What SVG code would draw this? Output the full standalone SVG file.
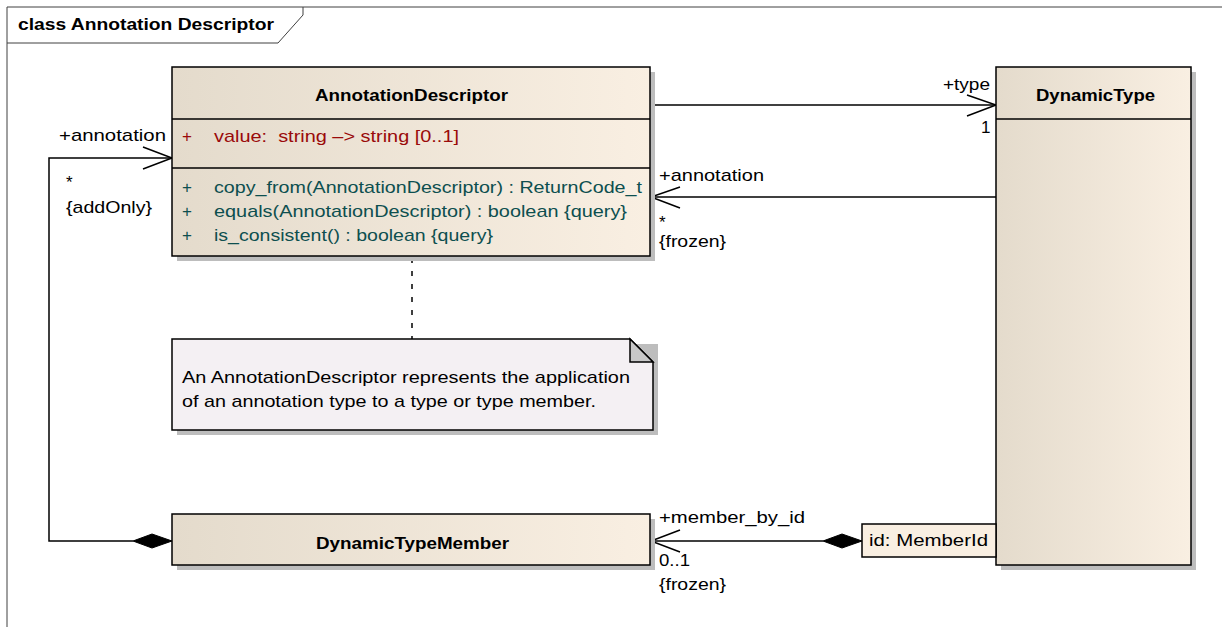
<svg xmlns="http://www.w3.org/2000/svg" width="1222" height="627" viewBox="0 0 1222 627">
<style>
text{font-family:"Liberation Sans",Arial,sans-serif;font-size:17px;fill:#000}
.b{font-weight:bold;font-size:16px}
.attr{fill:#9a0a0a}
.op{fill:#0d4f4f}
.box{fill:url(#g);stroke:#000;stroke-width:1.5}
.sh{fill:#bdbdbd}
.ln{fill:none;stroke:#000;stroke-width:1.5}
</style>
<defs>
<linearGradient id="g" x1="0" y1="0" x2="1" y2="0">
<stop offset="0" stop-color="#e4dbcc"/>
<stop offset="1" stop-color="#f9efe2"/>
</linearGradient>
</defs>
<rect width="1222" height="627" fill="#fff"/>
<g id="frame">
<path d="M7 627 V7 H1222" fill="none" stroke="#404040" stroke-width="1"/>
<path d="M7 43 H278 L303 15 V7" fill="none" stroke="#404040" stroke-width="1"/>
<text class="b" x="18" y="30" textLength="256" lengthAdjust="spacingAndGlyphs">class Annotation Descriptor</text>
</g>
<g id="connectors">
<path class="ln" d="M651 105 H996"/>
<path class="ln" d="M967 95 L996 105 L967 116"/>
<path class="ln" d="M996 197 H651"/>
<path class="ln" d="M680 187 L651 197 L680 208"/>
<path class="ln" d="M133 541 H49 V158 H172"/>
<path class="ln" d="M143 147 L172 158 L143 169"/>
<path d="M133 541 L152 534 L172 541 L152 548 Z" fill="#000" stroke="#000"/>
<path class="ln" d="M823 541 H651"/>
<path class="ln" d="M680 530 L651 541 L680 552"/>
<path d="M823 541 L842 534 L862 541 L842 548 Z" fill="#000" stroke="#000"/>
<path d="M412 258 V340" fill="none" stroke="#000" stroke-width="1.5" stroke-dasharray="5 8"/>
<text x="943" y="90" textLength="47" lengthAdjust="spacingAndGlyphs">+type</text>
<text x="981" y="133">1</text>
<text x="659" y="181" textLength="105" lengthAdjust="spacingAndGlyphs">+annotation</text>
<text x="659" y="228">*</text>
<text x="659" y="247" textLength="67" lengthAdjust="spacingAndGlyphs">{frozen}</text>
<text x="59" y="141" textLength="107" lengthAdjust="spacingAndGlyphs">+annotation</text>
<text x="66" y="188">*</text>
<text x="66" y="213" textLength="86" lengthAdjust="spacingAndGlyphs">{addOnly}</text>
<text x="659" y="523" textLength="146" lengthAdjust="spacingAndGlyphs">+member_by_id</text>
<text x="659" y="566" textLength="31" lengthAdjust="spacingAndGlyphs">0..1</text>
<text x="659" y="590" textLength="67" lengthAdjust="spacingAndGlyphs">{frozen}</text>
</g>
<g id="AnnotationDescriptor">
<rect class="sh" x="177" y="72" width="478" height="189"/>
<rect class="box" x="172" y="67" width="478" height="189"/>
<path class="ln" d="M172 119 H650 M172 168 H650"/>
<text class="b" x="315" y="101" textLength="193" lengthAdjust="spacingAndGlyphs">AnnotationDescriptor</text>
<text class="attr" x="182" y="142">+</text>
<text class="attr" x="214" y="142" xml:space="preserve" textLength="245" lengthAdjust="spacingAndGlyphs">value:  string –&gt; string [0..1]</text>
<text class="op" x="182" y="193">+</text>
<text class="op" x="214" y="193" textLength="428" lengthAdjust="spacingAndGlyphs">copy_from(AnnotationDescriptor) : ReturnCode_t</text>
<text class="op" x="182" y="217">+</text>
<text class="op" x="214" y="217" textLength="413" lengthAdjust="spacingAndGlyphs">equals(AnnotationDescriptor) : boolean {query}</text>
<text class="op" x="182" y="241">+</text>
<text class="op" x="214" y="241" textLength="279" lengthAdjust="spacingAndGlyphs">is_consistent() : boolean {query}</text>
</g>
<g id="DynamicType">
<rect class="sh" x="1001" y="72" width="195" height="498"/>
<rect class="box" x="996" y="67" width="195" height="498"/>
<path class="ln" d="M996 119 H1191"/>
<text class="b" x="1036" y="101" textLength="119" lengthAdjust="spacingAndGlyphs">DynamicType</text>
</g>
<g id="MemberIdQualifier">
<rect x="862" y="524" width="134" height="33" fill="#f9efe2" stroke="#000" stroke-width="1.5"/>
<text x="869" y="546" textLength="119" lengthAdjust="spacingAndGlyphs">id: MemberId</text>
</g>
<g id="DynamicTypeMember">
<rect class="sh" x="177" y="519" width="478" height="51"/>
<rect class="box" x="172" y="514" width="478" height="51"/>
<text class="b" x="316" y="549" textLength="193" lengthAdjust="spacingAndGlyphs">DynamicTypeMember</text>
</g>
<g id="Note">
<path d="M177 344 H658 V435 H177 Z" fill="#bdbdbd"/>
<path d="M172 339 H630 L653 362 V430 H172 Z" fill="#f4f0f3" stroke="#000" stroke-width="1.5"/>
<path d="M630 339 V362 H653 Z" fill="#c8c8c8" stroke="#000" stroke-width="1.5"/>
<text x="182" y="383" textLength="448" lengthAdjust="spacingAndGlyphs">An AnnotationDescriptor represents the application</text>
<text x="182" y="407" textLength="414" lengthAdjust="spacingAndGlyphs">of an annotation type to a type or type member.</text>
</g>
</svg>
